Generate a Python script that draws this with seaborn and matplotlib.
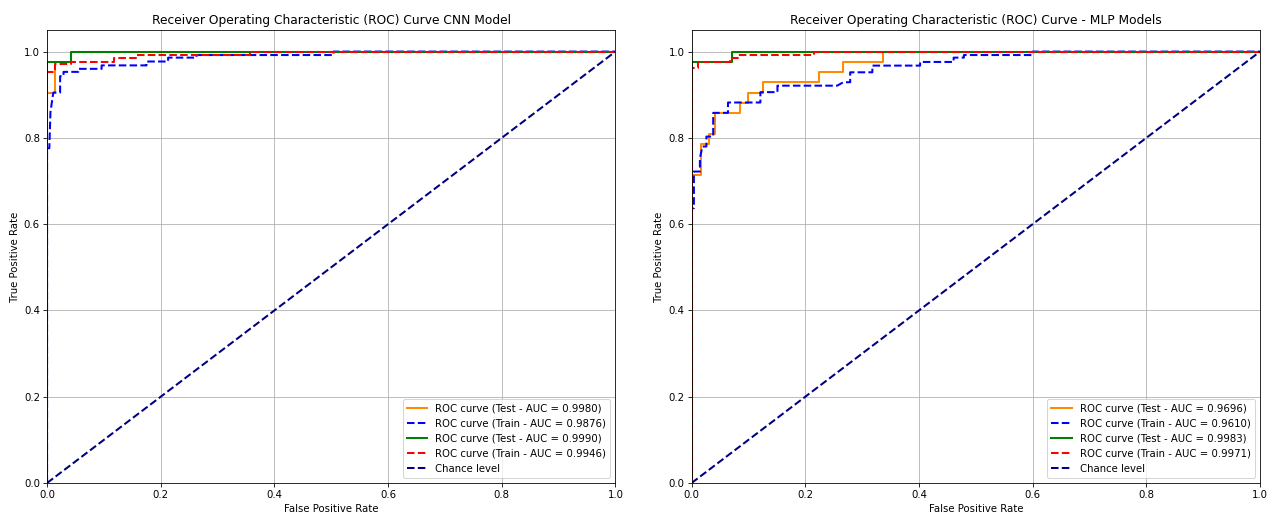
import matplotlib

matplotlib.use("Agg")
import matplotlib.pyplot as plt
import seaborn as sns

# CNN model (left panel)
CNN_TEST_A_FPR = [0, 0, 0.014, 0.014, 0.043, 0.043, 1.0]
CNN_TEST_A_TPR = [0, 0.905, 0.905, 0.976, 0.976, 1.0, 1.0]
CNN_TRAIN_A_FPR = [0, 0, 0.004, 0.006, 0.011, 0.023, 0.023, 0.029, 0.029, 0.055, 0.055,
                   0.096, 0.096, 0.175, 0.175, 0.213, 0.213, 0.263, 0.263, 0.504, 0.504, 1.0]
CNN_TRAIN_A_TPR = [0, 0.776, 0.776, 0.86, 0.905, 0.905, 0.943, 0.943, 0.953, 0.953, 0.96,
                   0.96, 0.968, 0.968, 0.977, 0.977, 0.986, 0.986, 0.992, 0.992, 1.0, 1.0]
CNN_TEST_B_FPR = [0, 0, 0.043, 0.043, 1.0]
CNN_TEST_B_TPR = [0, 0.976, 0.976, 1.0, 1.0]
CNN_TRAIN_B_FPR = [0, 0, 0.014, 0.014, 0.042, 0.042, 0.117, 0.117, 0.157, 0.157, 0.357, 0.357, 1.0]
CNN_TRAIN_B_TPR = [0, 0.953, 0.953, 0.971, 0.971, 0.976, 0.976, 0.986, 0.986, 0.993, 0.993, 1.0, 1.0]
CNN_AUC = [0.9980, 0.9876, 0.9990, 0.9946]

# MLP models (right panel)
MLP_TEST_A_FPR = [0, 0, 0.016, 0.016, 0.03, 0.03, 0.042, 0.042, 0.086, 0.086, 0.1, 0.1,
                  0.126, 0.126, 0.224, 0.224, 0.266, 0.266, 0.336, 0.336, 1.0]
MLP_TEST_A_TPR = [0, 0.714, 0.714, 0.786, 0.786, 0.81, 0.81, 0.857, 0.857, 0.881, 0.881, 0.905,
                  0.905, 0.929, 0.929, 0.952, 0.952, 0.976, 0.976, 1.0, 1.0]
MLP_TRAIN_A_FPR = [0, 0, 0.004, 0.004, 0.0146, 0.0146, 0.019, 0.026, 0.026, 0.038, 0.038, 0.064,
                   0.064, 0.121, 0.121, 0.151, 0.151, 0.256, 0.267, 0.279, 0.279, 0.318, 0.318,
                   0.402, 0.402, 0.461, 0.461, 0.479, 0.479, 0.60, 0.60, 1.0]
MLP_TRAIN_A_TPR = [0, 0.637, 0.637, 0.722, 0.722, 0.753, 0.78, 0.78, 0.803, 0.803, 0.858, 0.858,
                   0.882, 0.882, 0.906, 0.906, 0.921, 0.921, 0.929, 0.929, 0.952, 0.952, 0.9675,
                   0.9675, 0.976, 0.976, 0.986, 0.986, 0.992, 0.992, 1.0, 1.0]
MLP_TEST_B_FPR = [0, 0, 0.0715, 0.0715, 1.0]
MLP_TEST_B_TPR = [0, 0.976, 0.976, 1.0, 1.0]
MLP_TRAIN_B_FPR = [0, 0, 0.011, 0.011, 0.068, 0.068, 0.081, 0.081, 0.215, 0.215, 1.0]
MLP_TRAIN_B_TPR = [0, 0.963, 0.963, 0.976, 0.976, 0.984, 0.984, 0.992, 0.992, 1.0, 1.0]
MLP_AUC = [0.9696, 0.9610, 0.9983, 0.9971]

CHANCE = [0, 1]
TICKS = [0.0, 0.2, 0.4, 0.6, 0.8, 1.0]

DPI = 73.3


def draw_panel(ax, curves, aucs, title):
    colors = ["darkorange", "blue", "green", "red"]
    kinds = ["Test", "Train", "Test", "Train"]
    styles = ["-", "--", "-", "--"]
    for (fpr, tpr), auc, color, kind, ls in zip(curves, aucs, colors, kinds, styles):
        sns.lineplot(x=fpr, y=tpr, sort=False, estimator=None, ax=ax, color=color,
                     linestyle=ls, lw=2, label=f"ROC curve ({kind} - AUC = {auc:.4f})")
    sns.lineplot(x=CHANCE, y=CHANCE, sort=False, estimator=None, ax=ax, color="navy",
                 linestyle="--", lw=2, label="Chance level")
    ax.set_xlim(0.0, 1.0)
    ax.set_ylim(0.0, 1.05)
    ax.set_xticks(TICKS)
    ax.set_yticks(TICKS)
    ax.set_xlabel("False Positive Rate")
    ax.set_ylabel("True Positive Rate")
    ax.set_title(title)
    ax.grid(True)
    ax.legend(loc="lower right")


fig, (ax1, ax2) = plt.subplots(1, 2, figsize=(1268 / DPI, 514 / DPI), dpi=DPI)
fig.subplots_adjust(left=0.0371, right=0.9937, top=0.9416, bottom=0.0603, wspace=0.134)

draw_panel(ax1, [(CNN_TEST_A_FPR, CNN_TEST_A_TPR), (CNN_TRAIN_A_FPR, CNN_TRAIN_A_TPR),
                 (CNN_TEST_B_FPR, CNN_TEST_B_TPR), (CNN_TRAIN_B_FPR, CNN_TRAIN_B_TPR)],
           CNN_AUC, "Receiver Operating Characteristic (ROC) Curve CNN Model")
draw_panel(ax2, [(MLP_TEST_A_FPR, MLP_TEST_A_TPR), (MLP_TRAIN_A_FPR, MLP_TRAIN_A_TPR),
                 (MLP_TEST_B_FPR, MLP_TEST_B_TPR), (MLP_TRAIN_B_FPR, MLP_TRAIN_B_TPR)],
           MLP_AUC, "Receiver Operating Characteristic (ROC) Curve - MLP Models")

fig.savefig("out.png", dpi=DPI)
